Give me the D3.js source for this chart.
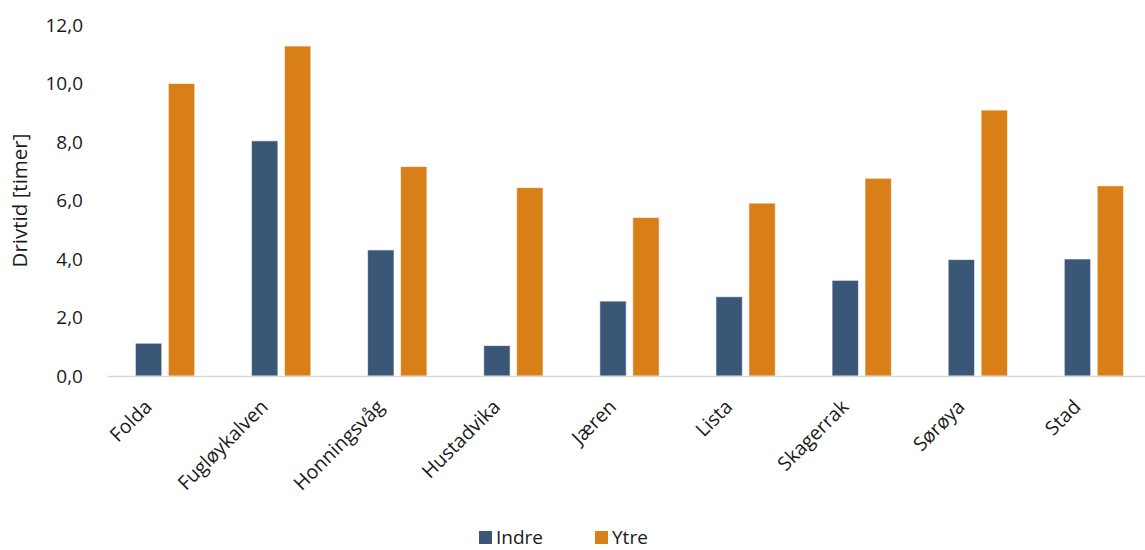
<!DOCTYPE html>
<html>
<head>
<meta charset="utf-8">
<script src="https://cdn.jsdelivr.net/npm/d3@7"></script>
<style>
  body { margin: 0; background: #fff; }
  text { font-family: "Open Sans", sans-serif; fill: #1a1a1a; }
</style>
</head>
<body>
<div id="chart"></div>
<script>
// data
var categories = ["Folda", "Fugløykalven", "Honningsvåg", "Hustadvika", "Jæren", "Lista", "Skagerrak", "Sørøya", "Stad"];
var series = ["Indre", "Ytre"];
var indre = [1.12, 8.04, 4.31, 1.04, 2.56, 2.71, 3.27, 3.98, 4.0];
var ytre = [10.0, 11.28, 7.16, 6.44, 5.42, 5.91, 6.76, 9.09, 6.5];
var yTicks = [0, 2, 4, 6, 8, 10, 12];
var colors = ["#3a5777", "#d87f17"];

var W = 1145, H = 550;
var plot = {left: 107, right: 1152, top: 25, bottom: 376};

var svg = d3.select("#chart").append("svg")
  .attr("width", W)
  .attr("height", H);

var x0 = d3.scaleBand()
  .domain(categories)
  .range([plot.left, plot.right])
  .padding(0);

var groupW = 59.3;
var x1 = d3.scaleBand()
  .domain(series)
  .range([0, groupW])
  .paddingInner(0.2)
  .paddingOuter(0);

var y = d3.scaleLinear()
  .domain([0, 12])
  .range([plot.bottom, plot.top]);

var fmt = function(v) { return d3.format(".1f")(v).replace(".", ","); };

// y axis labels (no line, no ticks)
var yAxis = svg.append("g")
  .attr("transform", "translate(" + (plot.left - 24) + ",0)")
  .call(d3.axisLeft(y).tickValues(yTicks).tickFormat(fmt).tickSize(0).tickPadding(0));
yAxis.select(".domain").remove();
yAxis.selectAll("text")
  .style("font-family", "'Open Sans', sans-serif")
  .style("font-size", "19px")
  .attr("fill", "#1a1a1a");

// bars
var rows = categories.map(function(c, i) { return {cat: c, vals: [indre[i], ytre[i]]}; });

var groups = svg.append("g").selectAll("g")
  .data(rows)
  .join("g")
  .attr("transform", function(d) {
    return "translate(" + (x0(d.cat) + (x0.bandwidth() - groupW) / 2) + ",0)";
  });

groups.selectAll("rect")
  .data(function(d) { return d.vals.map(function(v, j) { return {s: series[j], v: v, j: j}; }); })
  .join("rect")
  .attr("x", function(d) { return x1(d.s); })
  .attr("y", function(d) { return y(d.v); })
  .attr("width", x1.bandwidth())
  .attr("height", function(d) { return y(0) - y(d.v); })
  .attr("fill", function(d) { return colors[d.j]; })
  .attr("stroke", "#ffffff")
  .attr("stroke-opacity", 0.6)
  .attr("stroke-width", 1);

// x axis
var xAxis = svg.append("g")
  .attr("transform", "translate(0," + plot.bottom + ")")
  .call(d3.axisBottom(x0).tickSize(0).tickPadding(0));
xAxis.select(".domain")
  .attr("stroke", "#d9d9d9")
  .attr("stroke-width", 1.5);
xAxis.selectAll("text")
  .style("font-family", "'Open Sans', sans-serif")
  .style("font-size", "19.5px")
  .attr("fill", "#1a1a1a")
  .attr("text-anchor", "end")
  .attr("dy", null)
  .attr("y", 0)
  .attr("transform", "translate(-12,32) rotate(-45)");

// y title
svg.append("text")
  .attr("transform", "translate(27," + ((plot.top + plot.bottom) / 2) + ") rotate(-90)")
  .attr("text-anchor", "middle")
  .style("font-size", "20.5px")
  .text("Drivtid [timer]");

// legend
var legend = svg.append("g").attr("transform", "translate(479,531)");
var items = legend.selectAll("g")
  .data(series)
  .join("g")
  .attr("transform", function(d, i) { return "translate(" + (i * 116) + ",0)"; });
items.append("rect")
  .attr("width", 13)
  .attr("height", 13)
  .attr("fill", function(d, i) { return colors[i]; });
items.append("text")
  .attr("x", 17)
  .attr("y", 13)
  .style("font-size", "19px")
  .text(function(d) { return d; });
</script>
</body>
</html>
